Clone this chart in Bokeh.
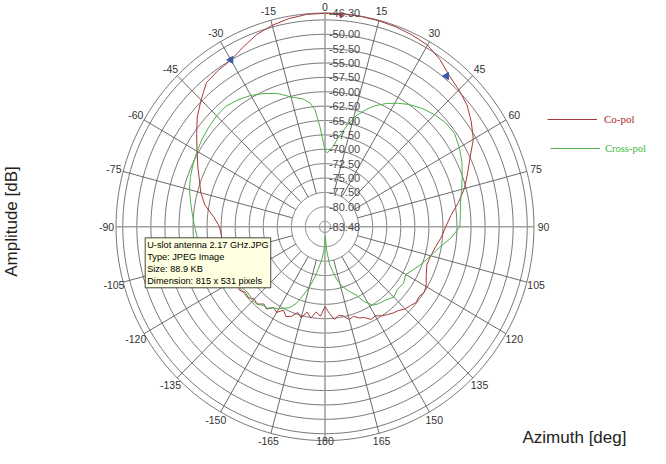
import numpy as np
from bokeh.plotting import figure
from bokeh.models import Range1d, Label, Legend, LegendItem
from bokeh.core.properties import value
from bokeh.embed import file_html
from bokeh.resources import INLINE

# ---------------- data ----------------
co_angles = [-180, -177, -174, -171, -168, -165, -162, -159, -156, -153, -150, -147, -144, -141,
             -138, -135, -132, -129, -126, -123, -120, -115, -110, -105, -100, -95, -90, -85, -80,
             -75, -70, -65, -60, -55, -50, -45, -40, -35, -30, -25, -20, -15, -10, -5, 0, 5, 10,
             15, 20, 25, 30, 35, 40, 45, 50, 55, 60, 65, 70, 75, 80, 85, 90, 95, 100, 105, 110,
             115, 120, 123, 126, 129, 132, 135, 138, 141, 144, 147, 150, 153, 156, 159, 162, 165,
             168, 171, 174, 177, 180]
co_pol = [-69.6, -67.9, -68.6, -67.4, -68.3, -67.1, -67.8, -66.8, -66.4, -67.2, -66.3, -66.7, -65.8,
          -66.2, -65.4, -65.7, -65.1, -65.3, -64.7, -64.9, -64.5, -64.6, -64.7, -64.8, -64.9, -65.0,
          -64.7, -63.6, -61.8, -60.6, -59.7, -58.5, -57.2, -55.6, -53.8, -52.3, -50.7, -50.3, -50.0,
          -49.0, -47.9, -47.2, -46.7, -46.4, -46.35, -46.30, -46.35, -46.4, -46.5, -46.7, -47.0,
          -47.9, -49.1, -49.8, -50.5, -51.7, -53.0, -55.0, -56.5, -57.8, -59.4, -61.0, -62.0, -62.7,
          -63.5, -64.0, -64.2, -63.6, -62.7, -62.5, -62.8, -62.6, -63.0, -63.3, -63.9, -64.2, -64.6,
          -65.0, -65.6, -65.4, -66.2, -66.5, -67.1, -66.8, -67.6, -67.9, -67.3, -68.4, -69.6]

xp_angles = [-180, -177, -174, -171, -168, -165, -162, -159, -156, -153, -150, -147, -144, -141,
             -138, -135, -130, -125, -120, -115, -110, -105, -100, -95, -90, -85, -80, -75, -70,
             -65, -60, -55, -50, -45, -40, -35, -30, -25, -20, -15, -10, -7, -5, -3, -1, 0, 2, 4,
             6, 8, 10, 13, 16, 20, 23, 27, 31, 35, 40, 45, 50, 55, 60, 65, 70, 75, 80, 85, 90, 95,
             100, 105, 110, 115, 120, 125, 130, 135, 140, 145, 148, 152, 155, 158, 161, 164, 167,
             170, 173, 176, 178, 180]
cross_pol = [-80.8, -79.2, -77.6, -76.2, -74.3, -72.6, -71.0, -69.2, -68.1, -67.6, -67.0, -66.7,
             -66.0, -65.9, -65.4, -65.3, -65.6, -65.3, -64.6, -63.6, -62.6, -61.9, -61.2, -60.7,
             -60.3, -59.8, -59.2, -58.5, -58.0, -57.6, -57.2, -56.8, -56.5, -56.2, -56.1, -56.5,
             -57.1, -57.9, -58.8, -60.1, -60.9, -61.8, -63.0, -66.0, -69.0, -70.3, -70.6, -70.0,
             -69.4, -68.2, -67.0, -65.2, -63.4, -61.7, -60.6, -59.4, -58.4, -57.5, -56.6, -55.9,
             -55.4, -55.3, -55.9, -56.6, -57.5, -58.3, -59.0, -59.3, -59.5, -61.0, -62.8, -64.0,
             -65.0, -66.0, -66.9, -66.4, -66.6, -66.2, -66.8, -67.1, -67.4, -68.8, -70.4, -71.2,
             -72.0, -72.9, -74.0, -75.6, -77.0, -79.5, -81.8, -80.8]

beam_marker_angles = [-30.0, 39.5]
beam_marker_db = [-49.95, -49.5]
max_marker_angle = [4.4]
max_marker_db = [-46.6]

R_MIN = -83.48
R_MAX = -46.30
ring_db = [-46.30, -47.5, -50.0, -52.5, -55.0, -57.5, -60.0, -62.5, -65.0, -67.5, -70.0,
           -72.5, -75.0, -77.5, -80.0, -82.5]
ring_label_db = [-46.30, -50.0, -52.5, -55.0, -57.5, -60.0, -62.5, -65.0, -67.5, -70.0,
                 -72.5, -75.0, -77.5, -80.0, -83.48]
ring_labels = ["-46.30", "-50.00", "-52.50", "-55.00", "-57.50", "-60.00", "-62.50", "-65.00",
               "-67.50", "-70.00", "-72.50", "-75.00", "-77.50", "-80.00", "-83.48"]
spoke_angles = [-165, -150, -135, -120, -105, -75, -60, -45, -30, -15, 15, 30, 45, 60, 75,
                105, 120, 135, 150, 165]
axis_angles = [0, 90]
angle_ticks = [0, 15, 30, 45, 60, 75, 90, 105, 120, 135, 150, 165, 180,
               -15, -30, -45, -60, -75, -90, -105, -120, -135, -150, -165]
angle_tick_labels = ["0", "15", "30", "45", "60", "75", "90", "105", "120", "135", "150", "165",
                     "180", "-15", "-30", "-45", "-60", "-75", "-90", "-105", "-120", "-135",
                     "-150", "-165"]
SPOKE_INNER_DB = -77.5


def to_xy(theta_deg, db):
    r = np.asarray(db, dtype=float) - R_MIN
    t = np.radians(np.asarray(theta_deg, dtype=float))
    return r * np.sin(t), r * np.cos(t)


# ---------------- figure ----------------
W, H = 650, 448
SX, SY = 5.62, 5.75          # px per dB unit
CX, CY = 324.5, 226.3        # centre in canvas px
Y0, Y1 = -(H - CY) / SY, CY / SY
p = figure(width=W, height=H, output_backend="svg", toolbar_location=None,
           x_range=Range1d(-CX / SX, (W - CX) / SX),
           y_range=Range1d(Y0, Y1),
           x_axis_location=None, y_axis_location=None, min_border=0,
           background_fill_color="white", border_fill_color="white")
p.outline_line_color = None
p.grid.visible = False

# rings
circ = np.linspace(0, 360, 361)
ring_xs, ring_ys = [], []
for d in ring_db:
    x, y = to_xy(circ, np.full_like(circ, d))
    ring_xs.append(list(x))
    ring_ys.append(list(y))
p.multi_line(ring_xs, ring_ys, line_color="#666666", line_width=0.9)

# spokes
sp_xs, sp_ys = [], []
for a in spoke_angles:
    x, y = to_xy([a, a], [SPOKE_INNER_DB, R_MAX])
    sp_xs.append(list(x))
    sp_ys.append(list(y))
p.multi_line(sp_xs, sp_ys, line_color="#5a5a5a", line_width=0.9)

# main axis cross
ax_xs, ax_ys = [], []
for a in axis_angles:
    x, y = to_xy([a, a + 180], [R_MAX, R_MAX])
    ax_xs.append([x[0], x[1]])
    ax_ys.append([y[0], y[1]])
p.multi_line(ax_xs, ax_ys, line_color="#a0a0a0", line_width=1.6)

# curves
cx_, cy_ = to_xy(co_angles, co_pol)
r_co = p.line(cx_, cy_, line_color="#a83a3a", line_width=1.0)
xx_, xy_ = to_xy(xp_angles, cross_pol)
r_xp = p.line(xx_, xy_, line_color="#4cb04c", line_width=1.0)

bx, by = to_xy(beam_marker_angles, beam_marker_db)
p.scatter(bx, by, marker="triangle", size=7, angle=np.pi / 2, fill_color="#3a5aa8",
          line_color="#3a5aa8")
mx, my = to_xy(max_marker_angle, max_marker_db)
p.scatter(mx, my, marker="inverted_triangle", size=5, fill_color="#d04040", line_color="#d04040")

# ring labels
p.text(x=[0.7] * len(ring_label_db), y=[d - R_MIN for d in ring_label_db], text=ring_labels,
       text_font=value("Liberation Sans"), text_font_size="11px", text_color="#4a4a4a",
       text_align="left", text_baseline="middle")

# angle labels (kept inside the canvas at top and bottom)
lx, ly = to_xy(angle_ticks, [R_MAX + 1.7] * len(angle_ticks))
ly = np.clip(ly, Y0 + 7.5 / SY, Y1 - 6.5 / SY)
p.text(x=list(lx), y=list(ly), text=angle_tick_labels, text_font=value("Liberation Sans"),
       text_font_size="10.5px", text_color="#333333", text_align="center", text_baseline="middle")

# axis titles
p.add_layout(Label(x=10.5, y=227, x_units="screen", y_units="screen", text="Amplitude [dB]",
                   angle=np.pi / 2, text_align="center", text_baseline="middle",
                   text_font="Liberation Sans", text_font_size="17px", text_color="#222222"))
p.add_layout(Label(x=522, y=11, x_units="screen", y_units="screen", text="Azimuth  [deg]",
                   text_align="left", text_baseline="alphabetic",
                   text_font="Liberation Sans", text_font_size="17px", text_color="#222222"))

# legends
for rend, name, col, loc, stand, fs in [(r_co, "Co-pol", "#b02828", (547, 322), 7, "11px"),
                                        (r_xp, "Cross-pol", "#38b838", (550, 293), 5, "10.5px")]:
    lg = Legend(items=[LegendItem(label=name, renderers=[rend])], location=loc,
                glyph_width=50, glyph_height=14, label_height=14, label_standoff=stand,
                padding=0, margin=0, border_line_alpha=0, background_fill_alpha=0,
                label_text_font="Liberation Serif", label_text_font_size=fs,
                label_text_color=col)
    p.add_layout(lg)

# tooltip box
p.add_layout(Label(x=144.7, y=210.7, x_units="screen", y_units="screen",
                   text="U-slot antenna 2.17 GHz.JPG\nType: JPEG Image\nSize: 88.9 KB\n"
                        "Dimension: 815 x 531 pixels",
                   text_align="left", text_baseline="top", text_font="Liberation Sans",
                   text_font_size="9.2px", text_color="#000000",
                   background_fill_color="#ffffe1", border_line_color="#444444",
                   border_line_width=1, padding=2))

open("out.html", "w").write(file_html(p, INLINE))
